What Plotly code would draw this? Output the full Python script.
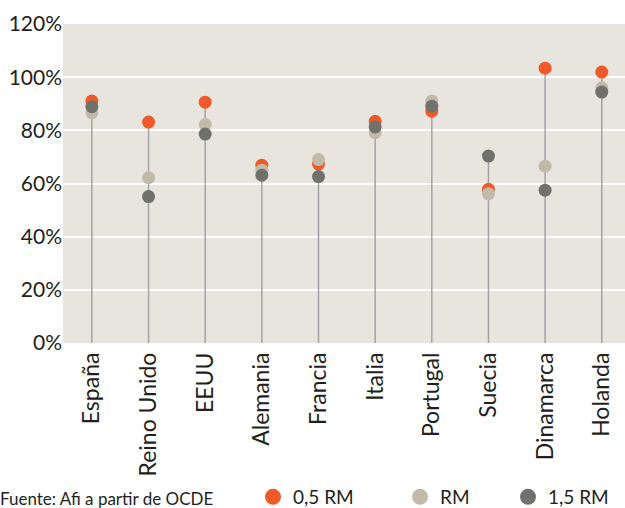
import plotly.graph_objects as go

paises = ["España", "Reino Unido", "EEUU", "Alemania", "Francia", "Italia",
          "Portugal", "Suecia", "Dinamarca", "Holanda"]
rm05 = [91.0, 83.1, 90.6, 66.9, 67.3, 83.4, 87.2, 57.8, 103.4, 101.9]
rm10 = [86.6, 62.2, 82.2, 65.0, 69.0, 79.1, 91.0, 56.1, 66.5, 96.0]
rm15 = [88.9, 55.1, 78.6, 63.1, 62.6, 81.3, 89.1, 70.3, 57.5, 94.4]
series_names = ["0,5 RM", "RM", "1,5 RM"]
colors = ["#ef5a2a", "#c1baa9", "#70716d"]
y_ticks = [0, 20, 40, 60, 80, 100, 120]
y_tick_labels = ["0%", "20%", "40%", "60%", "80%", "100%", "120%"]

FONT = "Lato, 'Open Sans', sans-serif"
TXT = "#231f20"

W, H = 625, 508
ML, MR, MT, MB = 63, 0, 24, 165
PW, PH = W - ML - MR, H - MT - MB

fig = go.Figure()

# stems from 0 to the max value per country
stem_x, stem_y = [], []
for i, p in enumerate(paises):
    top = max(rm05[i], rm10[i], rm15[i])
    stem_x += [p, p, None]
    stem_y += [0, top, None]
fig.add_trace(go.Scatter(x=stem_x, y=stem_y, mode="lines",
                         line=dict(color="#a3a3a6", width=1.5),
                         showlegend=False, hoverinfo="skip"))

legend_ids = ["legend", "legend2", "legend3"]
for name, vals, col, lg in zip(series_names, [rm05, rm10, rm15], colors, legend_ids):
    fig.add_trace(go.Scatter(x=paises, y=vals, mode="markers", name=name,
                             showlegend=False,
                             marker=dict(color=col, size=13, line=dict(width=0))))
    # legend entry with a larger symbol
    fig.add_trace(go.Scatter(x=[None], y=[None], mode="markers", name=name,
                             legend=lg, hoverinfo="skip",
                             marker=dict(color=col, size=16, line=dict(width=0))))

def leg(xpx):
    return dict(xref="container", yref="container", x=xpx / W, y=1 - 497 / H,
                xanchor="left", yanchor="middle", orientation="h",
                font=dict(size=19, color=TXT, family=FONT), itemsizing="trace",
                bgcolor="rgba(0,0,0,0)")

fig.update_layout(
    width=W, height=H,
    margin=dict(l=ML, r=MR, t=MT, b=MB),
    paper_bgcolor="white", plot_bgcolor="#e8e5df",
    font=dict(family=FONT, color=TXT),
    showlegend=True,
    legend=leg(253), legend2=leg(400), legend3=leg(508),
    xaxis=dict(type="category", range=[-0.51, 9.41], showgrid=False, showline=False,
               tickangle=-90, tickfont=dict(size=23, color=TXT), ticks="",
               ticklabelstandoff=4, automargin=False),
    yaxis=dict(range=[0, 120], tickvals=y_ticks, ticktext=y_tick_labels, showgrid=True,
               gridcolor="white", gridwidth=2, zeroline=False, showline=False,
               tickfont=dict(size=21, color=TXT), ticks="", automargin=False),
    annotations=[dict(text="Fuente: Afi a partir de OCDE",
                      x=(-2 - ML) / PW, y=(H - MB - 498) / PH,
                      xref="paper", yref="paper",
                      xanchor="left", yanchor="middle",
                      showarrow=False, font=dict(size=17, color=TXT))],
)

fig.write_html("out.html", config={"displayModeBar": False},
               post_script="document.body.style.margin='0';document.body.style.overflow='hidden';")
